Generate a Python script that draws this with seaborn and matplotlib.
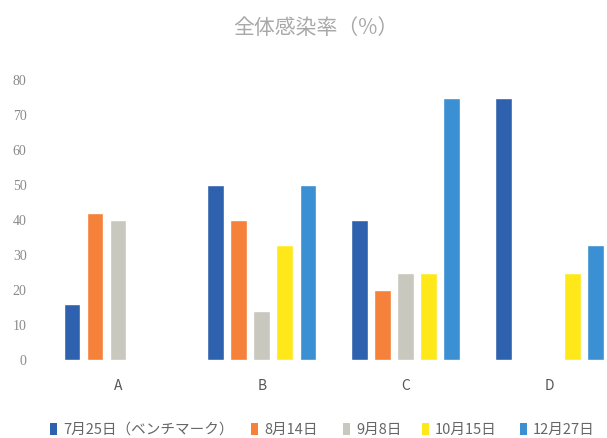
import matplotlib
matplotlib.use("Agg")
import matplotlib.pyplot as plt
from matplotlib.patches import Patch
import seaborn as sns
import pandas as pd

categories = ["A", "B", "C", "D"]
series = ["7月25日（ベンチマーク）", "8月14日", "9月8日", "10月15日", "12月27日"]
v_0725 = [16, 50, 40, 75]
v_0814 = [42, 40, 20, None]
v_0908 = [40, 14, 25, None]
v_1015 = [None, 33, 25, 25]
v_1227 = [None, 50, 75, 33]
colors = ["#2F62AE", "#F5813B", "#C9C8BE", "#FFE81A", "#3A90D2"]
y_ticks = [0, 10, 20, 30, 40, 50, 60, 70, 80]

rows = []
for name, vals in zip(series, [v_0725, v_0814, v_0908, v_1015, v_1227]):
    for cat, v in zip(categories, vals):
        rows.append({"cat": cat, "series": name, "value": v})
df = pd.DataFrame(rows)

sns.set_style("white")
plt.rcParams["font.family"] = ["Noto Sans CJK JP", "DejaVu Sans"]

W, H = 607, 438
fig = plt.figure(figsize=(W / 100, H / 100), dpi=100)
ax = fig.add_axes([46 / W, 1 - 360 / H, 1 - 46 / W, 280 / H])

sns.barplot(data=df, x="cat", y="value", hue="series", order=categories,
            hue_order=series, palette=colors, width=0.8, gap=0.28,
            saturation=1, ax=ax, legend=False)

ax.set_xlim(-0.5, 3.4)
ax.set_ylim(0, 80)
ax.set_yticks(y_ticks)
ax.set_yticklabels([str(t) for t in y_ticks], color="#8a8a8a", fontsize=10,
                   family="Liberation Serif")
ax.tick_params(axis="y", length=0, pad=14)
ax.tick_params(axis="x", length=0, pad=14, labelsize=10, labelcolor="#555555")
ax.set_xlabel("")
ax.set_ylabel("")
sns.despine(ax=ax, left=True, bottom=True)

fig.text(0.52, 1 - 28 / H, "全体感染率（%）", ha="center", va="center",
         fontsize=15, color="#a8a8a8")

# one legend entry per series, laid out along the bottom edge
entry_left = [50, 251, 343, 422, 520]
for name, c, xl in zip(series, colors, entry_left):
    fig.legend([Patch(facecolor=c, edgecolor="none")], [name],
               loc="center left", bbox_to_anchor=(xl / W, 1 - 430 / H),
               frameon=False, fontsize=10.5, handlelength=0.5,
               handleheight=0.8, handletextpad=0.4, borderpad=0,
               borderaxespad=0, labelcolor="#666666")

fig.savefig("out.png", dpi=100)
